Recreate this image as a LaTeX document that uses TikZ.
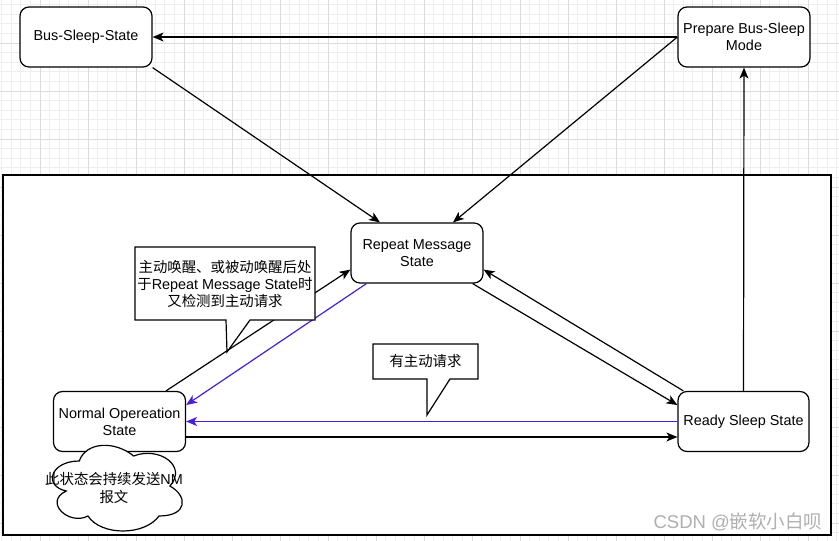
\documentclass[tikz,border=0pt]{standalone}
\usepackage{fontspec}
\setmainfont{Liberation Sans}
\newfontfamily\cjk{Noto Sans CJK SC}
\usetikzlibrary{arrows.meta,calc}
\definecolor{edgepurple}{RGB}{72,30,220}
\definecolor{gridminor}{RGB}{238,238,238}
\definecolor{gridmajor}{RGB}{220,220,220}
\definecolor{wmgray}{RGB}{175,175,175}
\begin{document}
\begin{tikzpicture}[x=1pt,y=-1pt,
  statebox/.style={draw,rounded corners=9pt,fill=white,line width=1.2pt,
    minimum width=132pt,minimum height=60pt,inner sep=0pt,align=center,
    font=\fontsize{14.4}{17.3}\selectfont},
  edge/.style={line width=1.2pt,-{Stealth[length=11pt,width=9pt,inset=3pt]}},
  pedge/.style={edge,draw=edgepurple,color=edgepurple},
  callout/.style={draw,fill=white,line width=1.2pt,line join=miter},
  ctext/.style={align=center,inner sep=0pt,font=\fontsize{14.4}{17.3}\selectfont}
]
\useasboundingbox (0,0) rectangle (839,541);
\fill[white] (0,0) rectangle (839,541);
% grid
\foreach \i in {0,...,87} \draw[gridminor,line width=0.8pt] ({1.6+9.6*\i},0) -- ({1.6+9.6*\i},541);
\foreach \i in {0,...,56} \draw[gridminor,line width=0.8pt] (0,{4.6+9.6*\i}) -- (839,{4.6+9.6*\i});
\foreach \i in {1,...,18} \draw[gridmajor,line width=0.8pt] ({-8+48*\i},0) -- ({-8+48*\i},541);
\foreach \i in {1,...,12} \draw[gridmajor,line width=0.8pt] (0,{-5+48*\i}) -- (839,{-5+48*\i});
% outer frame
\draw[fill=white,line width=1.2pt] (3,175) rectangle (831,535);

% states
\node[statebox] (bss) at (86,37) {Bus-Sleep-State};
\node[statebox] (pbs) at (744,37) {Prepare Bus-Sleep\\Mode};
\node[statebox] (rm) at (417,253) {Repeat Message\\State};
\node[statebox] (nos) at (119.5,421.5) {Normal Opereation\\State};
\node[statebox,minimum width=131pt] (rss) at (743.5,421.5) {Ready Sleep State};

% edges
\draw[edge] (pbs.west) -- (bss.east);
\draw[edge] (bss.south east) -- ([xshift=-37pt]rm.north);
\draw[edge] (pbs.west) -- ([xshift=36pt]rm.north);
\draw[edge] ([xshift=46.5pt]nos.north) -- ([yshift=14pt]rm.south west);
\draw[pedge] ([xshift=16pt]rm.south west) -- ([yshift=16.5pt]nos.east);
\draw[edge] ([xshift=-11pt]rm.south east) -- ([yshift=16.5pt]rss.west);
\draw[edge] ([xshift=6pt]rss.north west) -- ([yshift=14pt]rm.south east);
\draw[pedge] (rss.west) -- (nos.east);
\draw[edge] ([yshift=-15.5pt]nos.east) -- ([yshift=-15.5pt]rss.west);
\draw[edge] (rss.north) -- (pbs.south);

% callout 1
\draw[callout] (135,247) -- (315,247) -- (315,320) -- (250,320) -- (227,352) -- (226,320) -- (135,320) -- cycle;
\node[ctext] (c1) at (225,284) {{\cjk 主动唤醒、或被动唤醒后处}\\{\cjk 于}Repeat Message State{\cjk 时}\\{\cjk 又检测到主动请求}};
% callout 2
\draw[callout] (373,344) -- (478,344) -- (478,379) -- (450,379) -- (427,415) -- (427,379) -- (373,379) -- cycle;
\node[ctext] (c2) at (425.5,361.5) {\cjk 有主动请求};

% cloud
\draw[fill=white,line width=1.2pt] (79.25,461)
  .. controls (50.25,461) and (43,486) .. (66.2,491)
  .. controls (43,502) and (69.1,526) .. (87.95,516)
  .. controls (101,536) and (144.5,536) .. (159,516)
  .. controls (188,516) and (188,496) .. (169.875,486)
  .. controls (188,466) and (159,446) .. (133.625,456)
  .. controls (115.5,441) and (86.5,441) .. (79.25,461) -- cycle;
\node[ctext] (cl) at (114,488) {{\cjk 此状态会持续发送}NM\\{\cjk 报文}};

% watermark
\node[inner sep=0pt,text=wmgray,font=\fontsize{18.5}{20}\selectfont] (wm) at (738,522) {CSDN @{\cjk 嵌软小白呗}};
\end{tikzpicture}
\end{document}
